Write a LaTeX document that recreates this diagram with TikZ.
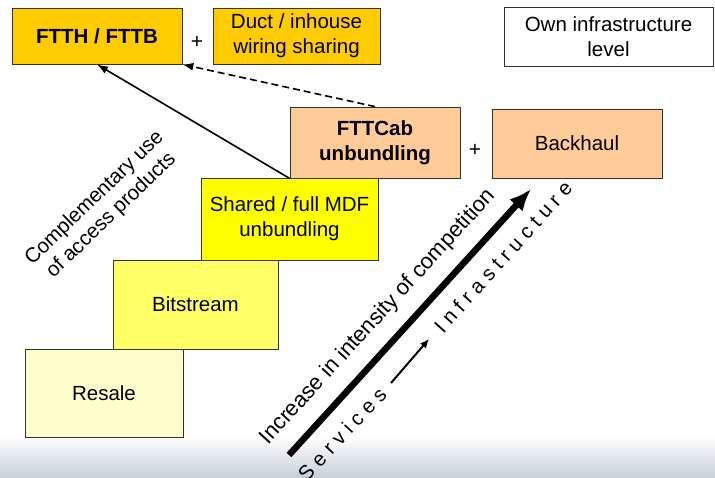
\documentclass[tikz,border=0pt]{standalone}
\usepackage{fontspec}
\setmainfont{Liberation Sans}
\usetikzlibrary{arrows.meta}
\definecolor{gold}{HTML}{FFCC00}
\definecolor{peach}{HTML}{FFCC99}
\definecolor{yellowA}{HTML}{FFFF00}
\definecolor{yellowB}{HTML}{FFFF66}
\definecolor{yellowC}{HTML}{FFFFCC}
\definecolor{bandgrey}{HTML}{C6D0D9}
\tikzset{
  box/.style={draw=black!80, line width=0.8pt, align=center, inner sep=0pt,
    font=\fontsize{20.5}{25}\selectfont},
  boldbox/.style={box, font=\fontsize{20.5}{25}\selectfont\bfseries},
  plus/.style={font=\fontsize{21}{25}\selectfont, inner sep=0pt},
  axis/.style={font=\fontsize{21}{25}\selectfont, inner sep=0pt},
  link/.style={line width=1.6pt, -{Latex[length=11pt,width=8pt]}},
}
\begin{document}
\begin{tikzpicture}[x=1pt,y=-1pt]
\useasboundingbox (0,0) rectangle (715,478);
% soft band along the lower edge
\shade[top color=white, bottom color=bandgrey] (0,436) rectangle (715,478);

% top row
\node[boldbox, fill=gold, minimum width=170pt, minimum height=56pt] (ftth) at (97,36) {FTTH / FTTB};
\node[plus] (plus1) at (197,42) {+};
\node[box, fill=gold, minimum width=167pt, minimum height=56pt] (duct) at (296.5,36) {Duct / inhouse\\wiring sharing};
\node[box, fill=white, minimum width=209pt, minimum height=59pt] (own) at (608.5,37) {Own infrastructure\\level};

% cabinet row
\node[boldbox, fill=peach, minimum width=170pt, minimum height=71pt] (cab) at (375,142.5) {FTTCab\\unbundling};
\node[plus] (plus2) at (475,150) {+};
\node[box, fill=peach, minimum width=170pt, minimum height=69pt] (backhaul) at (577,143.5) {Backhaul};

% access product staircase
\node[box, fill=yellowA, minimum width=177pt, minimum height=82pt] (mdf) at (289.5,219) {Shared / full MDF\\unbundling};
\node[box, fill=yellowB, minimum width=165pt, minimum height=89pt] (bit) at (195.5,304.5) {Bitstream};
\node[box, fill=yellowC, minimum width=158pt, minimum height=88pt] (resale) at (104,393) {Resale};

% upgrade paths
\draw[link] (cab.south west) -- (ftth.south);
\draw[link, dashed, dash pattern=on 7pt off 4pt] (cab.north) -- (ftth.south east);

% competition axis
\coordinate (bigtail) at (289,455);
\coordinate (bighead) at (531,189);
\draw[line width=6.5pt, -{Latex[length=22pt,width=18pt]}] (bigtail) -- (bighead);
\coordinate (smalltail) at (391,383);
\coordinate (smallhead) at (429,339);
\draw[line width=2pt, -{Latex[length=9pt,width=8pt]}] (smalltail) -- (smallhead);

\node[axis, rotate=47.5, font=\fontsize{22}{26}\selectfont] (compet) at (378,317) {Increase in intensity of competition};
\node[axis, rotate=47, font=\fontsize{20.5}{24}\selectfont] (serv) at (342,434) {S e r v i c e s};
\node[axis, rotate=48, font=\fontsize{20.5}{24}\selectfont] (infra) at (503,257) {I n f r a s t r u c t u r e};

\node[box, draw=none, rotate=44, font=\fontsize{20.5}{24}\selectfont] (compl) at (103,207) {Complementary use\\of access products};
\end{tikzpicture}
\end{document}
